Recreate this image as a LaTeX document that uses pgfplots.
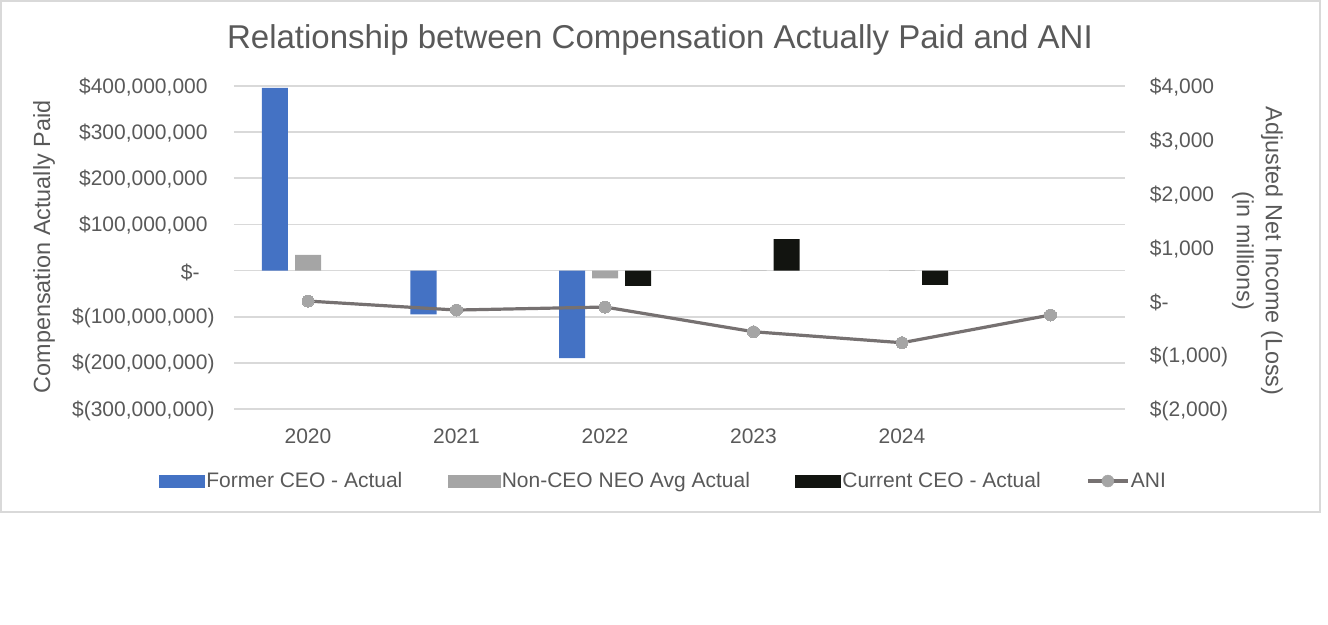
\documentclass[border=0pt]{standalone}
\usepackage{pgfplots}
\pgfplotsset{compat=1.18}
\usepackage{fontspec}
\setmainfont{Liberation Sans}

\definecolor{ceoblue}{HTML}{4472C4}
\definecolor{neogray}{HTML}{A5A5A5}
\definecolor{curblack}{HTML}{121410}
\definecolor{anigray}{HTML}{767171}
\definecolor{gridgray}{HTML}{D9D9D9}
\definecolor{txtgray}{HTML}{595959}

\pgfplotsset{
  cap/.style={
    at={(233.75pt,215pt)}, anchor=south west,
    scale only axis, width=891pt, height=323pt,
    xmin=-0.5, xmax=5.5,
    axis line style={draw=none},
    major tick length=0pt,
    scaled y ticks=false,
    tick label style={font=\fontsize{21}{25}\selectfont, text=txtgray},
  }
}

\begin{document}
\begin{tikzpicture}[x=1pt,y=1pt]
\useasboundingbox (0,0) rectangle (1328,624);
\draw[gridgray, line width=2pt] (1,112) rectangle (1320,623);

% title and axis titles
\node[font=\fontsize{33}{38}\selectfont, text=txtgray, anchor=base] at (660,575)
  {Relationship between Compensation Actually Paid and ANI};
\node[rotate=90, font=\fontsize{23.4}{28}\selectfont, text=txtgray] at (44,377)
  {Compensation Actually Paid};
\node[rotate=-90, align=center, font=\fontsize{23.4}{29}\selectfont, text=txtgray] at (1257.5,373)
  {Adjusted Net Income (Loss)\\(in millions)};

% compensation actually paid (left axis)
\begin{axis}[cap,
  ymin=-300000000, ymax=400000000,
  ytick={-300000000,-200000000,-100000000,0,100000000,200000000,300000000,400000000},
  yticklabels={{\$(300,000,000)},{\$(200,000,000)},{\$(100,000,000)},{\$-\kern15pt},
    {\$100,000,000\phantom{)}},{\$200,000,000\phantom{)}},{\$300,000,000\phantom{)}},{\$400,000,000\phantom{)}}},
  yticklabel style={anchor=east, inner sep=0pt, xshift=-19pt, yshift=-1.5pt},
  xtick={0,1,2,3,4},
  xticklabels={2020,2021,2022,2023,2024},
  xticklabel style={anchor=north, inner sep=0pt, yshift=-19.5pt},
  ymajorgrids, grid style={gridgray, line width=1.6pt},
  ybar, bar width=26pt,
]
\addplot[fill=ceoblue, draw=none, bar shift=-33pt] coordinates {
  (0,396000000) (1,-95000000) (2,-190000000)};
\addplot[fill=neogray, draw=none, bar shift=0pt] coordinates {
  (0,34000000) (2,-17000000) (3,600000) (4,600000)};
\addplot[fill=curblack, draw=none, bar shift=33pt] coordinates {
  (2,-33000000) (3,68000000) (4,-31000000)};
\end{axis}

% ANI (right axis)
\begin{axis}[cap,
  ymin=-2000, ymax=4000,
  xtick=\empty,
  ytick={-2000,-1000,0,1000,2000,3000,4000},
  yticklabels={{\$(2,000)},{\$(1,000)},{\$-},{\$1,000},{\$2,000},{\$3,000},{\$4,000}},
  ytick pos=right, yticklabel pos=right,
  yticklabel style={anchor=west, inner sep=0pt, xshift=25pt, yshift=-1.5pt},
  legend style={at={(0.4823,-0.2230)}, anchor=center, draw=none, fill=none,
    font=\fontsize{21}{25}\selectfont, text=txtgray,
    legend columns=4, cells={anchor=west},
    nodes={inner sep=1.5pt},
    /tikz/every even column/.append style={column sep=44pt}},
]
\addlegendimage{legend image code/.code={\fill[ceoblue] (-3pt,-6pt) rectangle (42pt,6pt);}}
\addlegendentry{Former CEO - Actual}
\addlegendimage{legend image code/.code={\fill[neogray] (-3pt,-6pt) rectangle (49pt,6pt);}}
\addlegendentry{Non-CEO NEO Avg Actual}
\addlegendimage{legend image code/.code={\fill[curblack] (-3pt,-6pt) rectangle (42pt,6pt);}}
\addlegendentry{Current CEO - Actual}
\addlegendimage{legend image code/.code={\draw[anigray, line width=3.2pt] (-3pt,0pt) -- (37pt,0pt);
  \fill[neogray] (17pt,0pt) circle (6pt);}}
\addlegendentry{ANI}
\addplot[forget plot, anigray, line width=3.2pt, mark=*, mark size=6pt,
  mark options={fill=neogray, draw=neogray, line width=0pt}] coordinates {
  (0,5) (1,-162) (2,-106) (3,-565) (4,-769) (5,-254)};
\end{axis}
\end{tikzpicture}
\end{document}
